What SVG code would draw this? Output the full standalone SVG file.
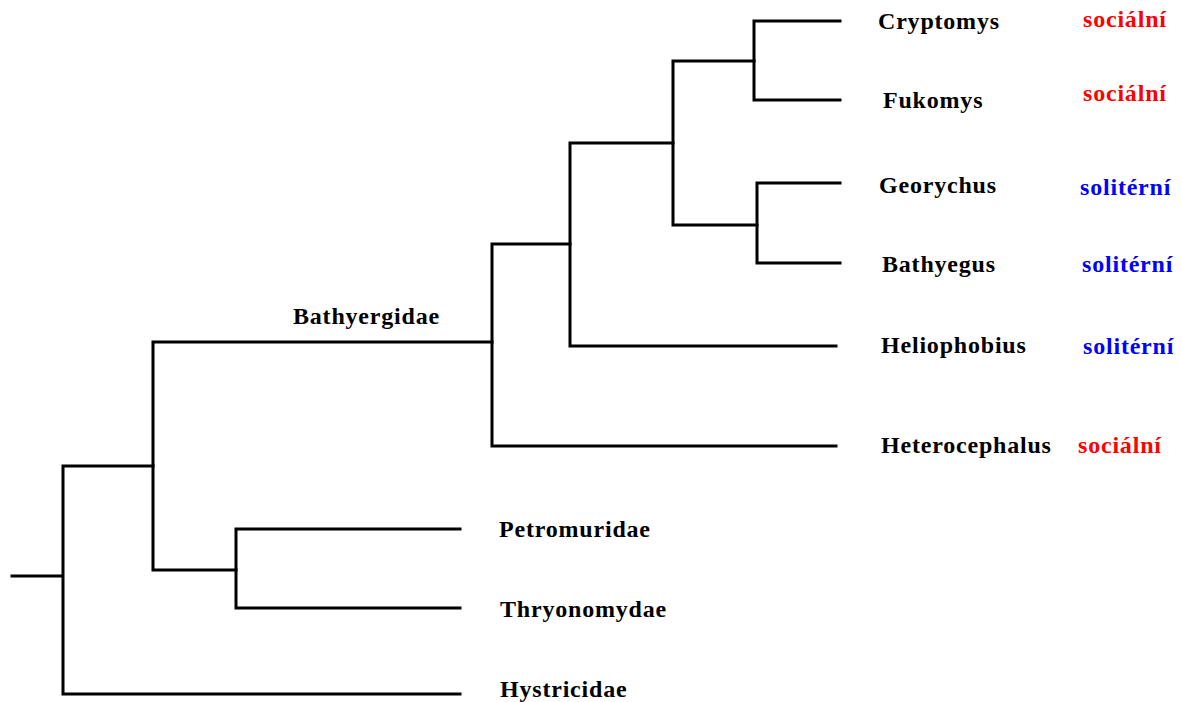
<svg xmlns="http://www.w3.org/2000/svg" width="1182" height="702" viewBox="0 0 1182 702">
<style>
.e{fill:none;stroke:#000;stroke-width:3;stroke-linecap:square}
text{font-family:"Liberation Serif","Times New Roman",serif;font-weight:bold;font-size:24px;letter-spacing:0.8px}
.t{fill:#000}
.s{fill:#ff0000}
.l{fill:#0000ff}
</style>
<rect width="1182" height="702" fill="#fff"/>
<g id="connectors">
<path class="e" d="M12,576H63M63,466V694M63,466H153M63,694H460"/>
<path class="e" d="M153,342V570M153,342H492M153,570H236"/>
<path class="e" d="M236,529V608M236,529H460M236,608H460"/>
<path class="e" d="M492,244V446M492,244H570M492,446H836"/>
<path class="e" d="M570,143V346M570,143H673M570,346H836"/>
<path class="e" d="M673,61V225M673,61H754M673,225H757"/>
<path class="e" d="M754,21V100M754,21H840M754,100H840"/>
<path class="e" d="M757,183V263M757,183H840M757,263H840"/>
</g>
<g id="node-bathyergidae"><text class="t" x="293" y="324">Bathyergidae</text></g>
<g id="node-cryptomys"><text class="t" x="878" y="29">Cryptomys</text><text class="s" x="1083" y="27">sociální</text></g>
<g id="node-fukomys"><text class="t" x="883" y="108">Fukomys</text><text class="s" x="1083" y="101">sociální</text></g>
<g id="node-georychus"><text class="t" x="879" y="193">Georychus</text><text class="l" x="1080" y="195">solitérní</text></g>
<g id="node-bathyegus"><text class="t" x="882" y="272">Bathyegus</text><text class="l" x="1082" y="272">solitérní</text></g>
<g id="node-heliophobius"><text class="t" x="881" y="353">Heliophobius</text><text class="l" x="1083" y="354">solitérní</text></g>
<g id="node-heterocephalus"><text class="t" x="881" y="453">Heterocephalus</text><text class="s" x="1078" y="453">sociální</text></g>
<g id="node-petromuridae"><text class="t" x="499" y="537">Petromuridae</text></g>
<g id="node-thryonomydae"><text class="t" x="500" y="617">Thryonomydae</text></g>
<g id="node-hystricidae"><text class="t" x="500" y="697">Hystricidae</text></g>
</svg>
